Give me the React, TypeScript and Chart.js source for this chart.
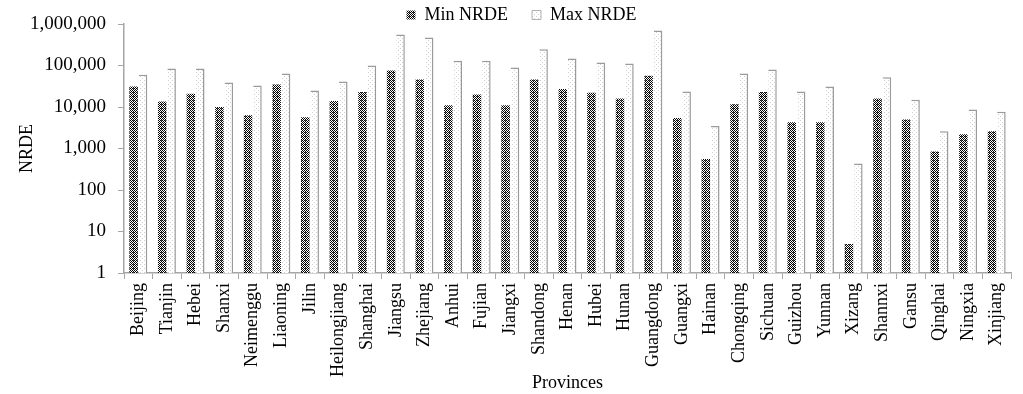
import { useEffect, useRef } from 'react';
import { Chart, registerables } from 'chart.js';
Chart.register(...registerables);

const provinces = ['Beijing', 'Tianjin', 'Hebei', 'Shanxi', 'Neimenggu', 'Liaoning', 'Jilin', 'Heilongjiang', 'Shanghai', 'Jiangsu', 'Zhejiang', 'Anhui', 'Fujian', 'Jiangxi', 'Shandong', 'Henan', 'Hubei', 'Hunan', 'Guangdong', 'Guangxi', 'Hainan', 'Chongqing', 'Sichuan', 'Guizhou', 'Yunnan', 'Xizang', 'Shannxi', 'Gansu', 'Qinghai', 'Ningxia', 'Xinjiang'];
const minNRDE = [31000, 13500, 21000, 10000, 6300, 35000, 5700, 14000, 23000, 76000, 46000, 11000, 20000, 11000, 46000, 27000, 22000, 16000, 57000, 5400, 560, 11700, 23000, 4300, 4300, 5, 16000, 5000, 850, 2200, 2600];
const maxNRDE = [60000, 85000, 85000, 39000, 33000, 64000, 25000, 41000, 100000, 560000, 470000, 130000, 130000, 90000, 245000, 148000, 118000, 112000, 700000, 23500, 3500, 64000, 80000, 23500, 31000, 435, 52000, 15000, 2600, 8700, 7700];
const yTicks = [1, 10, 100, 1000, 10000, 100000, 1000000];

function makePattern(kind: 'min' | 'max'): CanvasPattern | string {
  const c = document.createElement('canvas');
  c.width = 4; c.height = 4;
  const g = c.getContext('2d')!;
  if (kind === 'min') {
    g.fillStyle = '#fff';
    g.fillRect(0, 0, 4, 4);
    g.fillStyle = '#000';
    g.fillRect(0, 0, 1, 1);
    g.fillRect(2, 0, 1, 1);
    g.fillRect(1, 1, 1, 1);
    g.fillRect(3, 1, 1, 1);
    g.fillRect(0, 2, 1, 1);
    g.fillRect(2, 2, 1, 1);
    g.fillRect(1, 3, 1, 1);
    g.fillRect(3, 3, 1, 1);
    g.fillStyle = '#555';
    g.fillRect(1, 0, 1, 1);
  } else {
    g.fillStyle = '#fff';
    g.fillRect(0, 0, 4, 4);
    g.fillStyle = '#d0d0d0';
    g.fillRect(0, 0, 1, 1);
    g.fillRect(2, 2, 1, 1);
  }
  const ctx = document.createElement('canvas').getContext('2d')!;
  return ctx.createPattern(c, 'repeat') || '#888';
}

const legendShift = {
  id: 'legendShift',
  afterLayout(chart: any) {
    const lg = chart.legend;
    if (lg) { lg.left += 16; lg.right += 16; }
  },
};

export default function App() {
  const ref = useRef<HTMLCanvasElement>(null);
  useEffect(() => {
    if (!ref.current) return;
    const font = "'Liberation Serif', 'Times New Roman', serif";
    Chart.defaults.font.family = font;
    const chart = new Chart(ref.current, {
      type: 'bar',
      data: {
        labels: provinces,
        datasets: [
          {
            label: 'Min NRDE',
            data: minNRDE,
            backgroundColor: makePattern('min') as any,
            borderWidth: 0,
            categoryPercentage: 0.66,
            barPercentage: 0.9,
          },
          {
            label: 'Max NRDE',
            data: maxNRDE,
            backgroundColor: makePattern('max') as any,
            borderColor: '#9a9a9a',
            borderWidth: { top: 1.5, right: 1.5, left: 0, bottom: 0 } as any,
            borderSkipped: false,
            categoryPercentage: 0.66,
            barPercentage: 0.9,
          },
        ],
      },
      plugins: [legendShift],
      options: {
        animation: false,
        responsive: true,
        maintainAspectRatio: false,
        layout: { padding: { left: 0, right: 12, top: 0, bottom: 0 } },
        plugins: {
          legend: {
            position: 'top',
            maxHeight: 24,
            labels: {
              color: '#000',
              font: { size: 18, family: font },
              boxWidth: 9,
              boxHeight: 9,
              padding: 6,
              generateLabels: (ch: any) => {
                const items = Chart.defaults.plugins.legend.labels.generateLabels(ch);
                if (items[0]) items[0].text = items[0].text + '\u2003';
                return items;
              },
            },
          },
          tooltip: { enabled: false },
        },
        scales: {
          x: {
            grid: { drawOnChartArea: false, tickLength: 6, color: '#a6a6a6', offset: true },
            border: { color: '#a6a6a6', width: 1.5 },
            ticks: {
              autoSkip: false,
              minRotation: 90,
              maxRotation: 90,
              color: '#000',
              font: { size: 18, family: font },
              padding: 4,
            },
            title: {
              display: true,
              text: 'Provinces',
              color: '#000',
              font: { size: 18, family: font },
              padding: { top: 0, bottom: 0 },
            },
            afterFit: (s: any) => { s.height = 121; },
          },
          y: {
            type: 'logarithmic',
            min: 1,
            max: 1000000,
            afterBuildTicks: (s: any) => { s.ticks = yTicks.map((v) => ({ value: v })); },
            grid: { drawOnChartArea: false, tickLength: 6, color: '#a6a6a6' },
            border: { color: '#a6a6a6', width: 1.5 },
            ticks: {
              color: '#000',
              font: { size: 19, family: font },
              padding: 12,
              callback: (v: any) => Number(v).toLocaleString('en-US'),
            },
            title: {
              display: true,
              text: 'NRDE',
              color: '#000',
              font: { size: 18, family: font },
              padding: { top: 16, bottom: 0 },
            },
            afterFit: (s: any) => { s.width = 124; },
          },
        },
      },
    });
    return () => chart.destroy();
  }, []);
  return (
    <div style={{ position: 'fixed', left: 0, top: 0, width: 1023, height: 394, background: '#fff' }}>
      <canvas ref={ref} />
    </div>
  );
}
